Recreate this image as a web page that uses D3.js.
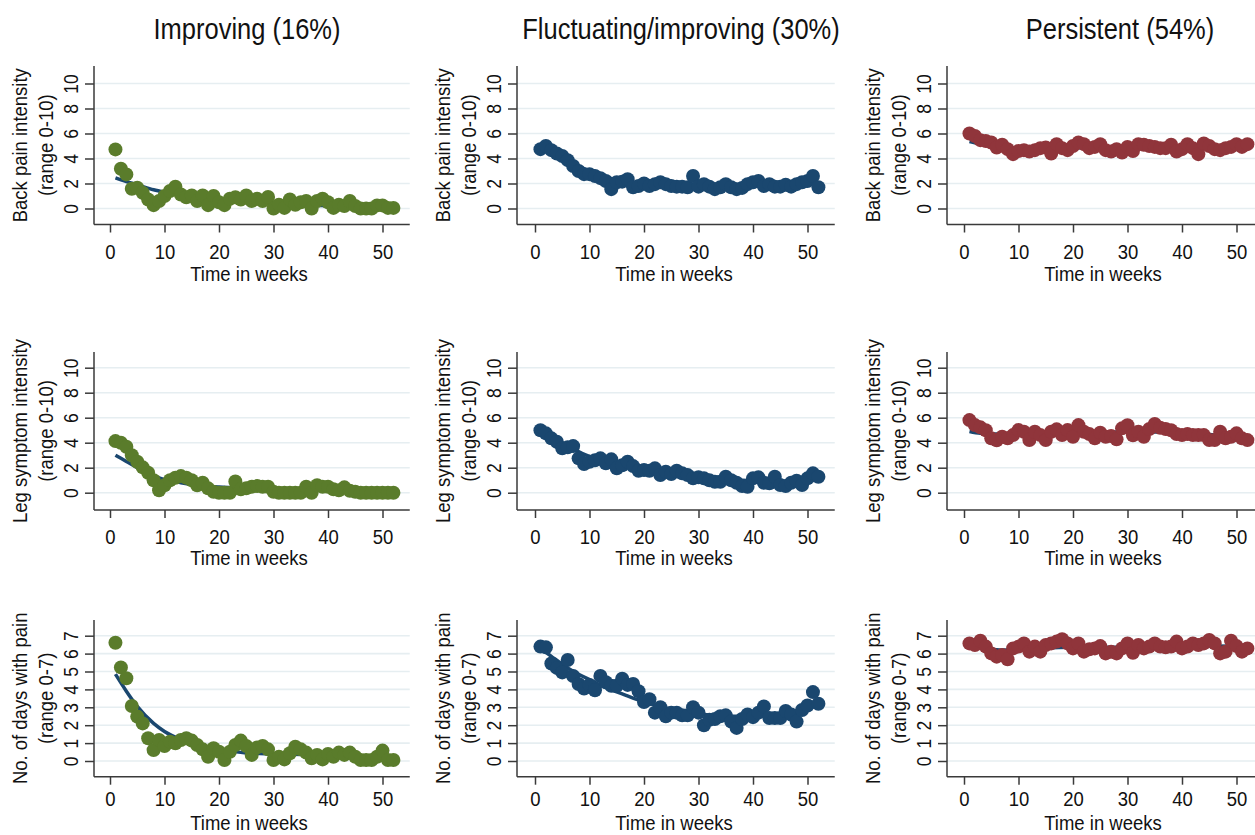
<!DOCTYPE html>
<html>
<head>
<meta charset="utf-8">
<script src="https://cdn.jsdelivr.net/npm/d3@7"></script>
<style>
  html, body { margin: 0; padding: 0; background: #fff; }
  svg { display: block; font-family: "Liberation Sans", Arial, sans-serif; }
</style>
</head>
<body>
<svg id="chart" width="1255" height="835"></svg>
<script>
// ---------------- DATA ----------------
const weeks = [1,2,3,4,5,6,7,8,9,10,11,12,13,14,15,16,17,18,19,20,21,22,23,24,25,26,
  27,28,29,30,31,32,33,34,35,36,37,38,39,40,41,42,43,44,45,46,47,48,49,50,51,52];

const groupTitles = ["Improving (16%)", "Fluctuating/improving (30%)", "Persistent (54%)"];
const outcomeLabels = [
  ["Back pain intensity", "(range 0-10)"],
  ["Leg symptom intensity", "(range 0-10)"],
  ["No. of days with pain", "(range 0-7)"]
];
const xTickValues = [0, 10, 20, 30, 40, 50];
const yTicks0to10 = [0, 2, 4, 6, 8, 10];
const yTicks0to7 = [0, 1, 2, 3, 4, 5, 6, 7];

// Observed weekly means
const backImproving = [4.73,3.18,2.73,1.58,1.66,1.26,0.72,0.27,0.6,1.0,1.4,1.74,1.12,0.9,1.05,0.6,1.05,0.27,1.0,0.5,
  0.27,0.78,0.9,0.72,1.05,0.6,0.78,0.6,0.92,0.0,0.3,0.05,0.72,0.3,0.5,0.6,0.0,0.6,0.78,0.5,
  0.05,0.3,0.2,0.6,0.2,0.0,0.0,0.0,0.25,0.25,0.05,0.05];
const backFluctuating = [4.75,5.0,4.67,4.4,4.2,3.87,3.4,3.0,2.75,2.75,2.6,2.43,2.2,1.55,2.1,2.15,2.35,1.7,1.8,2.0,
  1.8,1.95,2.1,1.95,1.8,1.75,1.75,1.7,2.6,1.75,1.95,1.75,1.55,1.7,1.95,1.7,1.55,1.65,1.95,2.1,
  2.2,1.8,1.95,1.75,1.75,1.9,1.75,1.95,2.1,2.2,2.6,1.7];
const backPersistent = [6.0,5.8,5.47,5.4,5.28,4.88,5.1,4.75,4.35,4.6,4.67,4.56,4.67,4.83,4.88,4.4,5.15,4.83,4.67,5.0,
  5.28,5.15,4.83,4.93,5.15,4.67,4.56,4.75,4.48,4.93,4.6,5.15,5.1,5.0,4.93,4.83,4.83,5.1,4.56,4.75,
  5.15,4.83,4.35,5.2,5.0,4.75,4.67,4.83,4.93,5.15,4.93,5.15];

const legImproving = [4.13,4.0,3.68,3.0,2.48,2.03,1.6,1.0,0.2,0.6,1.0,1.2,1.33,1.2,1.0,0.6,0.8,0.35,0.08,0.0,
  0.0,0.0,0.9,0.27,0.35,0.48,0.53,0.48,0.48,0.08,0.0,0.0,0.0,0.0,0.0,0.48,0.0,0.6,0.48,0.48,
  0.27,0.2,0.43,0.16,0.08,0.0,0.0,0.0,0.0,0.0,0.0,0.0];
const legFluctuating = [5.0,4.75,4.35,4.08,3.55,3.63,3.73,2.75,2.3,2.48,2.6,2.75,2.35,2.67,1.95,2.2,2.48,2.13,1.76,1.81,
  1.76,1.95,1.41,1.68,1.49,1.76,1.55,1.41,1.15,1.23,1.15,1.0,0.88,0.88,1.28,1.0,0.8,0.53,0.48,1.15,
  1.23,0.8,0.75,1.28,0.61,0.53,0.8,0.96,0.61,1.15,1.55,1.28];
const legPersistent = [5.81,5.41,5.23,5.0,4.35,4.2,4.48,4.35,4.61,5.01,4.88,4.21,4.88,4.61,4.21,4.88,5.07,4.61,5.01,4.48,
  5.41,4.88,4.69,4.35,4.8,4.48,4.53,4.27,5.15,5.4,4.6,4.88,4.48,5.1,5.5,5.2,5.1,5.0,4.69,4.61,
  4.69,4.61,4.61,4.61,4.21,4.21,4.88,4.35,4.48,4.75,4.35,4.21];

const daysImproving = [6.61,5.23,4.62,3.07,2.48,2.1,1.27,0.61,1.17,0.84,1.08,0.99,1.17,1.27,1.14,0.89,0.65,0.24,0.71,0.52,
  0.06,0.52,0.89,1.14,0.84,0.34,0.76,0.84,0.65,0.06,0.24,0.09,0.43,0.8,0.65,0.47,0.15,0.34,0.09,0.39,
  0.24,0.47,0.34,0.47,0.24,0.06,0.06,0.06,0.24,0.58,0.06,0.06];
const daysFluctuating = [6.39,6.35,5.45,5.2,4.95,5.64,4.75,4.3,4.05,4.25,3.95,4.75,4.4,4.2,4.2,4.6,4.25,4.3,3.9,3.3,
  3.45,2.7,3.0,2.5,2.7,2.7,2.55,2.55,3.0,2.7,2.0,2.3,2.35,2.5,2.55,2.2,1.85,2.35,2.6,2.45,
  2.7,3.05,2.4,2.4,2.4,2.8,2.6,2.2,2.85,3.1,3.85,3.2];
const daysPersistent = [6.57,6.48,6.72,6.39,6.01,5.83,5.92,5.68,6.29,6.39,6.57,6.11,6.39,6.11,6.48,6.57,6.67,6.8,6.57,6.29,
  6.57,6.11,6.24,6.29,6.42,6.01,6.11,6.01,6.29,6.57,6.05,6.48,6.29,6.39,6.57,6.39,6.35,6.39,6.67,6.29,
  6.39,6.57,6.48,6.57,6.76,6.57,6.01,6.11,6.72,6.42,6.11,6.29];

// Estimated (model-fitted) trajectories, read at selected weeks
const fitWeeks = [1,3,5,8,10,13,16,20,25,30,35,40,45,52];
const backImprovingFit   = [2.45,2.15,1.9,1.5,1.3,1.05,0.85,0.65,0.5,0.4,0.3,0.22,0.18,0.12];
const backFluctuatingFit = [4.9,4.5,4.1,3.4,3.0,2.5,2.2,1.95,1.85,1.8,1.8,1.85,1.9,2.0];
const backPersistentFit  = [5.35,5.15,5.0,4.85,4.8,4.78,4.8,4.85,4.9,4.9,4.9,4.85,4.85,4.9];
const legImprovingFit    = [3.0,2.5,2.0,1.35,1.05,0.8,0.6,0.45,0.35,0.28,0.22,0.18,0.12,0.08];
const legFluctuatingFit  = [4.9,4.4,4.0,3.3,2.9,2.5,2.2,1.85,1.55,1.3,1.1,0.95,0.9,1.0];
const legPersistentFit   = [4.9,4.75,4.7,4.7,4.7,4.75,4.8,4.85,4.85,4.85,4.85,4.8,4.65,4.4];
const daysImprovingFit   = [4.85,3.9,3.05,2.1,1.65,1.2,0.9,0.65,0.45,0.4,0.36,0.32,0.28,0.25];
const daysFluctuatingFit = [6.3,5.85,5.4,4.85,4.55,4.1,3.75,3.3,2.9,2.65,2.5,2.5,2.65,3.1];
const daysPersistentFit  = [6.45,6.35,6.25,6.2,6.22,6.28,6.32,6.35,6.35,6.35,6.38,6.4,6.42,6.4];

const observed = [
  [backImproving, backFluctuating, backPersistent],
  [legImproving, legFluctuating, legPersistent],
  [daysImproving, daysFluctuating, daysPersistent]
];
const fitted = [
  [backImprovingFit, backFluctuatingFit, backPersistentFit],
  [legImprovingFit, legFluctuatingFit, legPersistentFit],
  [daysImprovingFit, daysFluctuatingFit, daysPersistentFit]
];

// ---------------- LAYOUT / STYLE ----------------
const groupColors = ["#5a7c2b", "#1a476f", "#90353b"];
const lineColor = "#1a476f";
const gridColor = "#e6eef1";
const axisColor = "#3a3a3a";
const glyphStretch = 1.13; // reference glyphs are taller than wide

const colAxisX = [94, 517, 947];
const colZeroX = [110, 535, 964];
const pxPerWeek = 5.45;
const rowAxisTop = [66, 352, 620];
const rowAxisBottom = [224.5, 510, 776.7];
const rowZeroY = [208.5, 492.7, 761];
const rowTopTickY = [83.5, 367.7, 635.7];
const rowTicks = [yTicks0to10, yTicks0to10, yTicks0to7];
const rowXTickOffset = [34, 34, 29.5];
const rowXTitleOffset = [56, 55, 53.2];

const svg = d3.select("#chart");

// Column titles
const titleCenters = [247, 681, 1120];
groupTitles.forEach((t, c) => {
  svg.append("text")
    .attr("transform", `translate(${titleCenters[c]},39) scale(1,1.17)`)
    .attr("text-anchor", "middle")
    .attr("font-size", 25.5)
    .attr("fill", "#111")
    .text(t);
});

for (let r = 0; r < 3; r++) {
  for (let c = 0; c < 3; c++) {
    const ticks = rowTicks[r];
    const yMaxTick = ticks[ticks.length - 1];
    const x = d3.scaleLinear().domain([0, 50]).range([colZeroX[c], colZeroX[c] + 50 * pxPerWeek]);
    const y = d3.scaleLinear().domain([0, yMaxTick]).range([rowZeroY[r], rowTopTickY[r]]);
    const xLeft = colAxisX[c];
    const xRight = x(55);
    const g = svg.append("g");

    // gridlines
    g.selectAll(".grid").data(ticks).enter().append("line")
      .attr("x1", xLeft).attr("x2", xRight)
      .attr("y1", d => y(d)).attr("y2", d => y(d))
      .attr("stroke", gridColor).attr("stroke-width", 1.6);

    // fitted line
    const fitData = fitWeeks.map((w, i) => [w, fitted[r][c][i]]);
    g.append("path")
      .datum(fitData)
      .attr("d", d3.line().x(d => x(d[0])).y(d => y(d[1])).curve(d3.curveMonotoneX))
      .attr("fill", "none").attr("stroke", lineColor).attr("stroke-width", 3.5);

    // observed points
    const obs = weeks.map((w, i) => [w, observed[r][c][i]]);
    g.selectAll(".pt").data(obs).enter().append("circle")
      .attr("cx", d => x(d[0])).attr("cy", d => y(d[1]))
      .attr("r", 7)
      .attr("fill", groupColors[c]);

    // Y axis
    const yAxis = d3.axisLeft(y).tickValues(ticks).tickSize(9).tickFormat(d3.format("d"));
    const ya = g.append("g").attr("transform", `translate(${xLeft},0)`).call(yAxis);
    ya.select(".domain").remove();
    ya.selectAll(".tick line").attr("stroke", axisColor).attr("stroke-width", 1.5);
    ya.selectAll(".tick text")
      .attr("x", null).attr("dy", null)
      .attr("text-anchor", "middle")
      .attr("transform", `translate(-16,0) rotate(-90) scale(1,${glyphStretch})`)
      .attr("font-size", 17.5).attr("fill", "#111");
    g.append("line")
      .attr("x1", xLeft).attr("x2", xLeft)
      .attr("y1", rowAxisTop[r]).attr("y2", rowAxisBottom[r])
      .attr("stroke", axisColor).attr("stroke-width", 1.5);

    // X axis
    const xAxis = d3.axisBottom(x).tickValues(xTickValues).tickSize(8).tickPadding(6).tickFormat(d3.format("d"));
    const xa = g.append("g").attr("transform", `translate(0,${rowAxisBottom[r]})`).call(xAxis);
    xa.select(".domain").remove();
    xa.selectAll(".tick line").attr("stroke", axisColor).attr("stroke-width", 1.5);
    xa.selectAll(".tick text")
      .attr("y", null).attr("dy", null)
      .attr("transform", `translate(0,${rowXTickOffset[r]}) scale(1,${glyphStretch})`)
      .attr("font-size", 18.5).attr("fill", "#111");
    g.append("line")
      .attr("x1", xLeft).attr("x2", xRight)
      .attr("y1", rowAxisBottom[r]).attr("y2", rowAxisBottom[r])
      .attr("stroke", axisColor).attr("stroke-width", 1.5);

    // X title
    g.append("text")
      .attr("transform", `translate(${x(25.5)},${rowAxisBottom[r] + rowXTitleOffset[r]}) scale(1,${glyphStretch})`)
      .attr("text-anchor", "middle")
      .attr("font-size", 18.5).attr("fill", "#111")
      .text("Time in weeks");

    // Y title (two lines)
    const yMid = (rowAxisTop[r] + rowAxisBottom[r]) / 2;
    outcomeLabels[r].forEach((lbl, k) => {
      g.append("text")
        .attr("transform", `translate(${xLeft - (k === 0 ? 67 : 41)},${yMid}) rotate(-90) scale(1,${glyphStretch})`)
        .attr("text-anchor", "middle")
        .attr("font-size", 18.5).attr("fill", "#111")
        .text(lbl);
    });
  }
}
</script>
</body>
</html>
